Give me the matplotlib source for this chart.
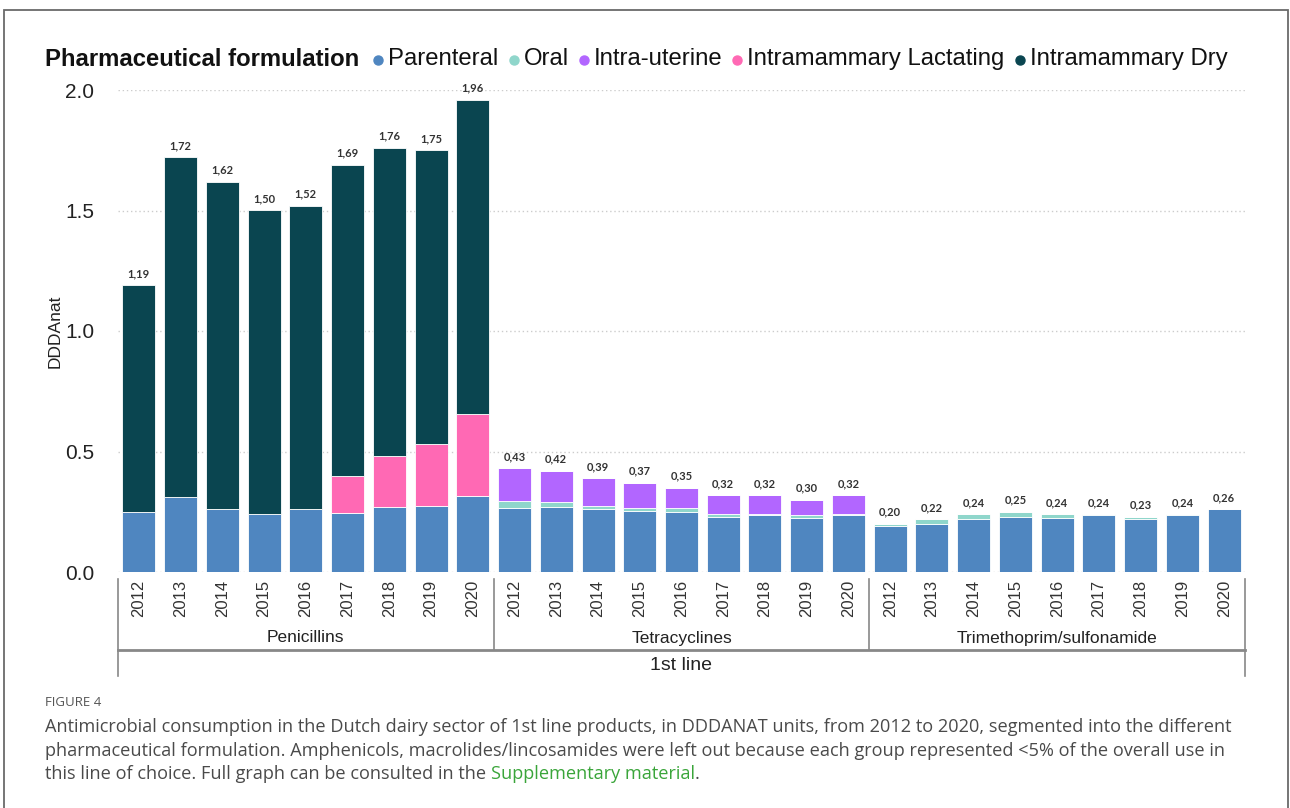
import matplotlib
matplotlib.use("Agg")
import matplotlib.pyplot as plt
from matplotlib.patches import Rectangle
from matplotlib.lines import Line2D
import numpy as np

groups = ["Penicillins", "Tetracyclines", "Trimethoprim/sulfonamide"]
years = ["2012", "2013", "2014", "2015", "2016", "2017", "2018", "2019", "2020"]
line_label = "1st line"

series_names = ["Parenteral", "Oral", "Intra-uterine", "Intramammary Lactating", "Intramammary Dry"]
series_colors = ["#4f86c0", "#8fd6cb", "#b266ff", "#ff69b4", "#0a4550"]

parenteral = [0.25, 0.31, 0.26, 0.24, 0.26, 0.245, 0.27, 0.275, 0.315,
              0.265, 0.27, 0.26, 0.255, 0.25, 0.23, 0.235, 0.225, 0.235,
              0.19, 0.20, 0.22, 0.23, 0.225, 0.235, 0.22, 0.235, 0.26]
oral = [0, 0, 0, 0, 0, 0, 0, 0, 0,
        0.03, 0.02, 0.015, 0.01, 0.015, 0.01, 0.005, 0.01, 0.005,
        0.01, 0.02, 0.02, 0.02, 0.015, 0.005, 0.01, 0.005, 0]
intra_uterine = [0, 0, 0, 0, 0, 0, 0, 0, 0,
                 0.135, 0.13, 0.115, 0.105, 0.085, 0.08, 0.08, 0.065, 0.08,
                 0, 0, 0, 0, 0, 0, 0, 0, 0]
lactating = [0, 0, 0, 0, 0, 0.155, 0.21, 0.255, 0.34,
             0, 0, 0, 0, 0, 0, 0, 0, 0,
             0, 0, 0, 0, 0, 0, 0, 0, 0]
dry = [0.94, 1.41, 1.36, 1.26, 1.26, 1.29, 1.28, 1.22, 1.305,
       0, 0, 0, 0, 0, 0, 0, 0, 0,
       0, 0, 0, 0, 0, 0, 0, 0, 0]
total_labels = ["1,19", "1,72", "1,62", "1,50", "1,52", "1,69", "1,76", "1,75", "1,96",
                "0,43", "0,42", "0,39", "0,37", "0,35", "0,32", "0,32", "0,30", "0,32",
                "0,20", "0,22", "0,24", "0,25", "0,24", "0,24", "0,23", "0,24", "0,26"]

plt.rcParams["font.family"] = ["Liberation Sans", "DejaVu Sans"]

W, H = 1290, 808
fig = plt.figure(figsize=(W / 100, H / 100), dpi=100)


def fx(px):
    return px / W


def fy(py):
    return 1 - py / H


# frame around the figure
fig.add_artist(Rectangle((fx(4), fy(808) - 0.01), fx(1284), fy(10) - fy(808) + 0.01,
                         transform=fig.transFigure, fill=False, edgecolor="#6a6a6a", linewidth=1.3))

ax = fig.add_axes([fx(118), fy(572), fx(1245 - 118), fy(90) - fy(572)])

data = [parenteral, oral, intra_uterine, lactating, dry]
x = np.arange(len(parenteral))
bottom = np.zeros(len(x))
for vals, color in zip(data, series_colors):
    vals = np.array(vals)
    ax.bar(x, vals, bottom=bottom, width=0.79, color=color, edgecolor="white", linewidth=0.6, zorder=3)
    bottom = bottom + vals

for xi, top, lab in zip(x, bottom, total_labels):
    ax.text(xi, top + 0.025, lab, ha="center", va="bottom", fontsize=8, color="#333333",
            family=["Lato", "DejaVu Sans"], fontweight="bold")

ax.set_xlim(-0.5, len(x) - 0.5)
ax.set_ylim(0, 2.0)
ax.set_yticks([0, 0.5, 1.0, 1.5, 2.0])
ax.set_yticklabels(["0.0", "0.5", "1.0", "1.5", "2.0"], fontsize=15, color="#222222")
ax.tick_params(axis="y", length=0, pad=17)
ax.set_xticks([])
ax.grid(axis="y", linestyle=(0, (1, 2)), color="#cccccc", linewidth=1, zorder=0)
for s in ax.spines.values():
    s.set_visible(False)
ax.set_ylabel("DDDAnat", fontsize=12.5, color="#222222", labelpad=2)

# year labels, group labels and separators
n = len(years)
for i in range(len(x)):
    ax.text(i, -0.016, years[i % n], rotation=90, ha="center", va="top", fontsize=12,
            color="#333333", transform=ax.get_xaxis_transform(), clip_on=False)

trans = ax.get_xaxis_transform()
ybar_top = -0.005
ysep = (572 - 650) / (572 - 90)
yout = (572 - 676) / (572 - 90)
for g in range(len(groups) + 1):
    xs = g * n - 0.5
    y_end = yout if g in (0, len(groups)) else ysep
    ax.add_line(Line2D([xs, xs], [ybar_top - 0.01, y_end], transform=trans, color="#888888",
                       linewidth=1.2, clip_on=False))
for g, name in enumerate(groups):
    ax.text(g * n + (n - 1) / 2, (572 - 638) / (572 - 90), name, ha="center", va="center",
            fontsize=12.5, color="#222222", transform=trans, clip_on=False)
ax.add_line(Line2D([-0.5, len(x) - 0.5], [ysep, ysep], transform=trans, color="#888888",
                   linewidth=2, clip_on=False))
ax.text((len(x) - 1) / 2, (572 - 666) / (572 - 90), line_label, ha="center", va="center",
        fontsize=14, color="#222222", transform=trans, clip_on=False)

# legend row
renderer = fig.canvas.get_renderer()
t = fig.text(fx(45), fy(59), "Pharmaceutical formulation", fontsize=17.2, fontweight="bold",
             color="#111111", va="center", ha="left")
xpos = t.get_window_extent(renderer).x1 + 19
for name, color in zip(series_names, series_colors):
    fig.add_artist(Line2D([xpos / W], [fy(60)], marker="o", markersize=6.5, color=color,
                          transform=fig.transFigure, linestyle="none"))
    tt = fig.text((xpos + 10) / W, fy(59), name, fontsize=17.2, color="#111111", va="center", ha="left")
    xpos = tt.get_window_extent(renderer).x1 + 15

# caption
cap_font = ["Open Sans", "DejaVu Sans"]
fig.text(fx(45), fy(703), "FIGURE 4", fontsize=9.5, color="#555555", family=cap_font, va="center")
cap_lines = [
    "Antimicrobial consumption in the Dutch dairy sector of 1st line products, in DDDANAT units, from 2012 to 2020, segmented into the different",
    "pharmaceutical formulation. Amphenicols, macrolides/lincosamides were left out because each group represented <5% of the overall use in",
    "this line of choice. Full graph can be consulted in the ",
]
cap_size = 13.05
for i, line in enumerate(cap_lines):
    c = fig.text(fx(45), fy(727 + 23.5 * i), line, fontsize=cap_size, color="#4a4a4a", family=cap_font, va="center")
x2 = c.get_window_extent(renderer).x1
c2 = fig.text(x2 / W, fy(727 + 47), "Supplementary material", fontsize=cap_size, color="#3aa53a",
              family=cap_font, va="center")
x3 = c2.get_window_extent(renderer).x1
fig.text(x3 / W, fy(727 + 47), ".", fontsize=cap_size, color="#4a4a4a", family=cap_font, va="center")

fig.savefig("out.png", dpi=100)
